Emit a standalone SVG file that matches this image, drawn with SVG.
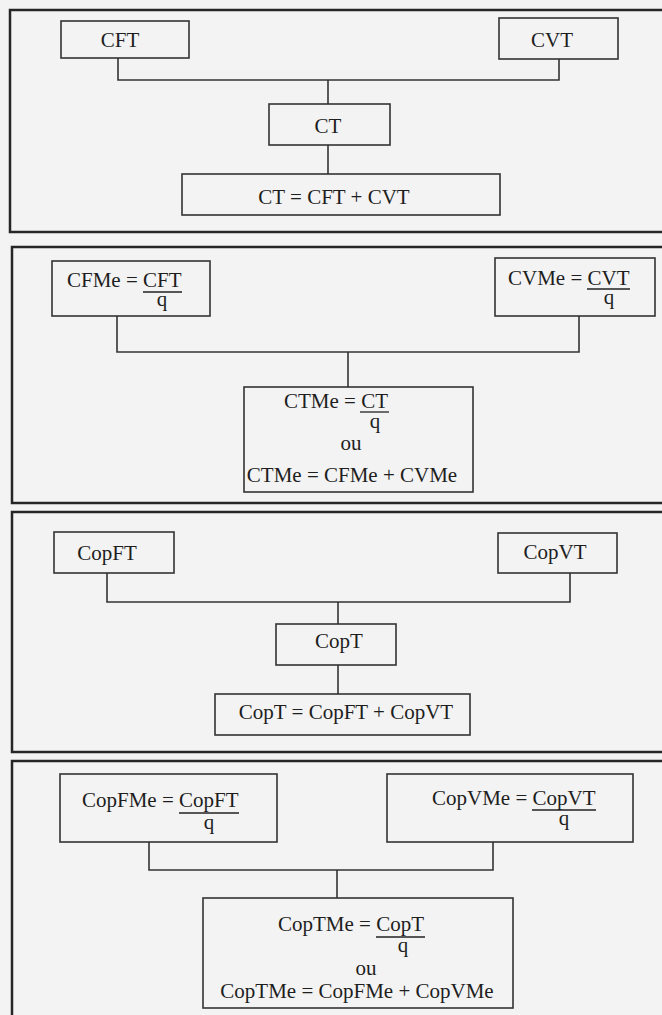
<svg xmlns="http://www.w3.org/2000/svg" width="662" height="1015" viewBox="0 0 662 1015">
<style>
.bg{fill:#f3f3f3}
.panel{fill:none;stroke:#262626;stroke-width:2.5}
.box{fill:none;stroke:#333;stroke-width:1.6}
.conn{fill:none;stroke:#333;stroke-width:1.6}
.t{font-family:"Liberation Serif","Times New Roman",serif;font-size:21px;fill:#1e1e1e}
.m{text-anchor:middle}
.frac{stroke:#222;stroke-width:1.3}
</style>
<rect class="bg" x="0" y="0" width="662" height="1015"/>
<g id="panels">
<rect class="panel" x="10" y="10" width="680" height="222"/>
<rect class="panel" x="12" y="247" width="680" height="256"/>
<rect class="panel" x="12" y="512" width="680" height="240"/>
<rect class="panel" x="12" y="761" width="680" height="280"/>
</g>
<g id="connectors">
<polyline class="conn" points="118,58 118,80 559,80 559,59"/>
<line class="conn" x1="328" y1="80" x2="328" y2="104"/>
<line class="conn" x1="328" y1="145" x2="328" y2="174"/>
<polyline class="conn" points="117,316 117,352 579,352 579,316"/>
<line class="conn" x1="348" y1="352" x2="348" y2="387"/>
<polyline class="conn" points="107,573 107,602 570,602 570,573"/>
<line class="conn" x1="338" y1="602" x2="338" y2="624"/>
<line class="conn" x1="338" y1="665" x2="338" y2="694"/>
<polyline class="conn" points="149,842 149,870 493,870 493,842"/>
<line class="conn" x1="337" y1="870" x2="337" y2="898"/>
</g>
<g id="CFT">
<rect class="box" x="61" y="21" width="128" height="37"/>
<text class="t m" x="120" y="47">CFT</text>
</g>
<g id="CVT">
<rect class="box" x="499" y="18" width="119" height="41"/>
<text class="t m" x="552" y="47">CVT</text>
</g>
<g id="CT">
<rect class="box" x="269" y="104" width="121" height="41"/>
<text class="t m" x="328" y="133">CT</text>
</g>
<g id="CT_eq">
<rect class="box" x="182" y="174" width="318" height="41"/>
<text class="t m" x="334" y="204">CT = CFT + CVT</text>
</g>
<g id="CFMe">
<rect class="box" x="52" y="261" width="158" height="55"/>
<text class="t"><tspan x="67" y="287">CFMe = CFT</tspan><tspan x="162" y="306" text-anchor="middle">q</tspan></text>
<line class="frac" x1="143" y1="292" x2="182" y2="292"/>
</g>
<g id="CVMe">
<rect class="box" x="495" y="258" width="160" height="58"/>
<text class="t"><tspan x="508" y="285">CVMe = CVT</tspan><tspan x="609" y="304" text-anchor="middle">q</tspan></text>
<line class="frac" x1="587" y1="289" x2="630" y2="289"/>
</g>
<g id="CTMe">
<rect class="box" x="244" y="387" width="229" height="105"/>
<text class="t"><tspan x="284" y="408">CTMe = CT</tspan><tspan x="375" y="428" text-anchor="middle">q</tspan><tspan x="351" y="450" text-anchor="middle">ou</tspan><tspan x="352" y="482" text-anchor="middle">CTMe = CFMe + CVMe</tspan></text>
<line class="frac" x1="360" y1="412" x2="389" y2="412"/>
</g>
<g id="CopFT">
<rect class="box" x="54" y="532" width="120" height="41"/>
<text class="t m" x="107" y="560">CopFT</text>
</g>
<g id="CopVT">
<rect class="box" x="498" y="533" width="119" height="40"/>
<text class="t m" x="555" y="559">CopVT</text>
</g>
<g id="CopT">
<rect class="box" x="276" y="624" width="120" height="41"/>
<text class="t m" x="339" y="648">CopT</text>
</g>
<g id="CopT_eq">
<rect class="box" x="215" y="694" width="255" height="41"/>
<text class="t m" x="346" y="719">CopT = CopFT + CopVT</text>
</g>
<g id="CopFMe">
<rect class="box" x="60" y="774" width="217" height="68"/>
<text class="t"><tspan x="82" y="807">CopFMe = CopFT</tspan><tspan x="209" y="829" text-anchor="middle">q</tspan></text>
<line class="frac" x1="179" y1="813" x2="239" y2="813"/>
</g>
<g id="CopVMe">
<rect class="box" x="387" y="774" width="246" height="68"/>
<text class="t"><tspan x="432" y="805">CopVMe = CopVT</tspan><tspan x="564" y="825" text-anchor="middle">q</tspan></text>
<line class="frac" x1="532" y1="810" x2="596" y2="810"/>
</g>
<g id="CopTMe">
<rect class="box" x="203" y="898" width="310" height="110"/>
<text class="t"><tspan x="278" y="931">CopTMe = CopT</tspan><tspan x="403" y="952" text-anchor="middle">q</tspan><tspan x="366" y="975" text-anchor="middle">ou</tspan><tspan x="357" y="998" text-anchor="middle">CopTMe = CopFMe + CopVMe</tspan></text>
<line class="frac" x1="376" y1="937" x2="425" y2="937"/>
</g>
</svg>
